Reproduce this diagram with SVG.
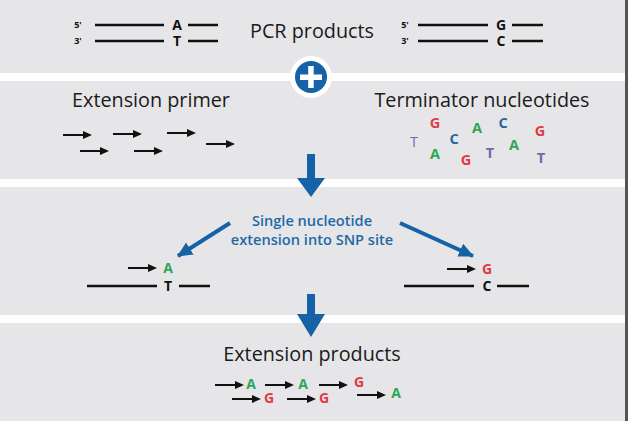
<svg xmlns="http://www.w3.org/2000/svg" xmlns:xlink="http://www.w3.org/1999/xlink" width="628" height="421" viewBox="0 0 628 421">
<defs>
<style>
.lbl{font-family:"Open Sans","Liberation Sans",sans-serif;font-size:19.8px;fill:#1a1a1a;text-anchor:middle}
.nt{font-family:"Open Sans","Liberation Sans",sans-serif;font-size:14px;font-weight:700;text-anchor:middle}
.tn{font-family:"Open Sans","Liberation Sans",sans-serif;font-size:14.5px;font-weight:700;text-anchor:middle}
.pr{font-family:"Open Sans","Liberation Sans",sans-serif;font-size:9px;font-weight:700;fill:#111;text-anchor:middle}
.blue{font-family:"Open Sans","Liberation Sans",sans-serif;font-size:14.6px;font-weight:600;fill:#1f69a6;text-anchor:middle}
.strand{stroke:#111;stroke-width:2.5;fill:none}
.k{fill:#111}.a{fill:#2ea65a}.g{fill:#e23a45}.c{fill:#1f6aa5}.t{fill:#7565ad}
.bl{fill:#1562a6}
</style>
<g id="arr"><line x1="0" y1="0" x2="22" y2="0" stroke="#111" stroke-width="2"/><polygon points="20,-4 29,0 20,4" fill="#111"/></g>
<marker id="bh" markerWidth="16" markerHeight="16" refX="14" refY="8" orient="auto" markerUnits="userSpaceOnUse"><path d="M0,1 L15,8 L0,15 z" fill="#1562a6"/></marker>
</defs>
<rect x="0" y="0" width="628" height="421" fill="#e6e6e8"/>
<rect x="0" y="73" width="628" height="8" fill="#ffffff"/>
<rect x="0" y="179" width="628" height="8" fill="#ffffff"/>
<rect x="0" y="315" width="628" height="8" fill="#ffffff"/>
<rect x="625" y="0" width="3" height="421" fill="#555558"/>

<g id="pcr-left">
<text class="pr" x="78" y="28">5'</text><text class="pr" x="78" y="44">3'</text>
<line class="strand" x1="95" y1="25" x2="164" y2="25"/><line class="strand" x1="188" y1="25" x2="218" y2="25"/>
<line class="strand" x1="95" y1="41" x2="164" y2="41"/><line class="strand" x1="188" y1="41" x2="218" y2="41"/>
<text class="nt k" x="177" y="30">A</text><text class="nt k" x="177" y="46">T</text>
</g>
<g id="pcr-label"><text class="lbl" x="312" y="38">PCR products</text></g>
<g id="pcr-right">
<text class="pr" x="405" y="28">5'</text><text class="pr" x="405" y="44">3'</text>
<line class="strand" x1="418" y1="25" x2="488" y2="25"/><line class="strand" x1="512" y1="25" x2="543" y2="25"/>
<line class="strand" x1="418" y1="41" x2="488" y2="41"/><line class="strand" x1="512" y1="41" x2="543" y2="41"/>
<text class="nt k" x="501" y="30">G</text><text class="nt k" x="501" y="46">C</text>
</g>

<g id="plus">
<circle cx="311" cy="77" r="21" fill="#ffffff"/>
<circle cx="311" cy="77" r="16" fill="#1562a6"/>
<rect x="300" y="74.5" width="22" height="5.5" fill="#ffffff"/>
<rect x="308.2" y="66" width="5.5" height="22" fill="#ffffff"/>
</g>

<g id="extension-primer">
<text class="lbl" x="151" y="107">Extension primer</text>
<use xlink:href="#arr" x="63" y="135"/>
<use xlink:href="#arr" x="113" y="134"/>
<use xlink:href="#arr" x="167" y="133"/>
<use xlink:href="#arr" x="206" y="144"/>
<use xlink:href="#arr" x="80" y="151"/>
<use xlink:href="#arr" x="134" y="151"/>
</g>

<g id="terminator-nucleotides">
<text class="lbl" x="482" y="107">Terminator nucleotides</text>
<text class="tn g" x="435" y="128">G</text>
<text class="tn t" x="414" y="147" style="font-weight:400">T</text>
<text class="tn c" x="454" y="144">C</text>
<text class="tn a" x="477" y="133">A</text>
<text class="tn c" x="503" y="128">C</text>
<text class="tn g" x="540" y="136">G</text>
<text class="tn a" x="435" y="159">A</text>
<text class="tn g" x="466" y="165">G</text>
<text class="tn t" x="490" y="158">T</text>
<text class="tn a" x="514" y="150">A</text>
<text class="tn t" x="541" y="163">T</text>
</g>

<g id="snp-label">
<text class="blue" x="312" y="226">Single nucleotide</text>
<text class="blue" x="312" y="245">extension into SNP site</text>
</g>

<g id="product-A">
<use xlink:href="#arr" x="128" y="268"/>
<text class="nt a" x="168" y="273">A</text>
<line class="strand" x1="87" y1="286" x2="157" y2="286"/><line class="strand" x1="179" y1="286" x2="210" y2="286"/>
<text class="nt k" x="168" y="291">T</text>
</g>
<g id="product-G">
<use xlink:href="#arr" x="447" y="269"/>
<text class="nt g" x="487" y="274">G</text>
<line class="strand" x1="404" y1="286" x2="474" y2="286"/><line class="strand" x1="497" y1="286" x2="529" y2="286"/>
<text class="nt k" x="487" y="291">C</text>
</g>

<g id="extension-products">
<text class="lbl" x="312" y="361">Extension products</text>
<use xlink:href="#arr" x="215" y="385"/><text class="nt a" x="251" y="389">A</text>
<use xlink:href="#arr" x="265" y="385"/><text class="nt a" x="303" y="389">A</text>
<use xlink:href="#arr" x="319" y="385"/><text class="nt g" x="359" y="387">G</text>
<use xlink:href="#arr" x="232" y="399"/><text class="nt g" x="269" y="403">G</text>
<use xlink:href="#arr" x="287" y="399"/><text class="nt g" x="324" y="403">G</text>
<use xlink:href="#arr" x="357" y="395"/><text class="nt a" x="396" y="398">A</text>
</g>

<g id="connectors">
<polygon class="bl" points="307,154 315,154 315,178 325,178 311,197 297,178 307,178"/>
<polygon class="bl" points="307,294 315,294 315,314 325,314 311,337 297,314 307,314"/>
<line x1="230" y1="223" x2="178" y2="256" stroke="#1562a6" stroke-width="4" marker-end="url(#bh)"/>
<line x1="400" y1="223" x2="473" y2="256" stroke="#1562a6" stroke-width="4" marker-end="url(#bh)"/>
</g>
</svg>
